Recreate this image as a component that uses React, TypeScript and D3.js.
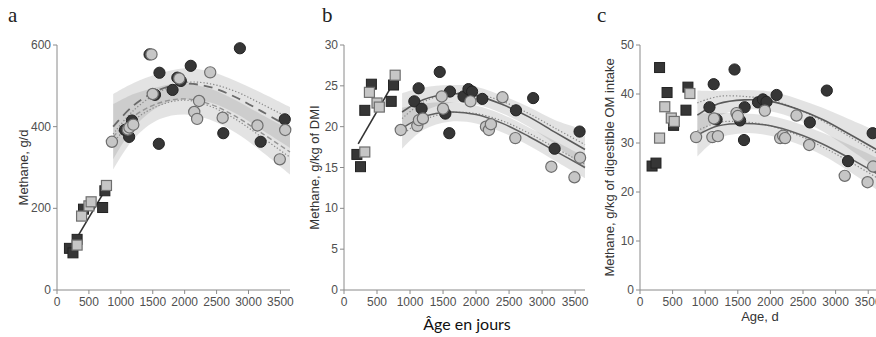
import React from 'react';
import * as d3 from 'd3';

// ---------- data ----------
const darkCircleAges = [1065, 1130, 1175, 1450, 1535, 1595, 1605, 1810, 1885, 1940, 2095, 2605, 2865, 3190, 3568];
const lightCircleAges = [860, 1110, 1135, 1195, 1480, 1500, 1915, 2150, 2195, 2225, 2400, 2595, 3140, 3490, 3575];

const darkCircleA = [392, 375, 415, 577, 478, 358, 532, 490, 520, 512, 549, 384, 592, 363, 418];
const lightCircleA = [363, 393, 398, 405, 577, 480, 518, 436, 419, 463, 533, 422, 403, 320, 392];
const darkCircleB = [23.1, 24.7, 22.2, 26.7, 21.6, 19.2, 24.3, 23.7, 24.6, 24.3, 23.4, 22.0, 23.5, 17.3, 19.4];
const lightCircleB = [19.6, 20.1, 20.8, 21.0, 23.7, 22.2, 23.1, 20.0, 19.6, 20.3, 23.6, 18.6, 15.1, 13.8, 16.2];
const darkCircleC = [37.3, 42.0, 34.8, 45.0, 34.6, 30.6, 37.3, 38.3, 38.9, 38.4, 39.8, 34.2, 40.7, 26.3, 32.0];
const lightCircleC = [31.2, 31.2, 35.0, 31.4, 36.1, 35.5, 36.6, 31.0, 31.5, 31.0, 35.6, 29.6, 23.3, 22.0, 25.2];

const darkSquareAgesAB = [195, 250, 315, 415, 715, 750];
const lightSquareAgesAB = [315, 385, 500, 535, 775];
const darkSquareA = [102, 91, 124, 198, 202, 243];
const lightSquareA = [110, 181, 206, 216, 256];
const darkSquareB = [16.6, 15.1, 22.0, 25.2, 23.1, 25.1];
const lightSquareB = [16.9, 24.2, 22.9, 22.4, 26.3];
const darkSquareAgesC = [185, 245, 300, 415, 515, 705, 735];
const darkSquareC = [25.3, 25.9, 45.4, 40.3, 33.6, 36.7, 41.4];
const lightSquareAgesC = [300, 380, 480, 525, 765];
const lightSquareC = [31.0, 37.4, 35.1, 34.4, 40.1];

const youngLineAges = { a: [230, 770], b: [215, 745] };
const youngLineA = [106, 249];
const youngLineB = [17.9, 25.3];

const fitAges = [880, 1200, 1600, 2000, 2400, 2800, 3200, 3650];
// panel a
const fitDarkA = [400, 452, 490, 505, 497, 472, 438, 398];
const dotDarkA = [382, 440, 485, 508, 505, 486, 456, 420];
const bandDarkLoA = [320, 397, 450, 467, 459, 432, 393, 348];
const bandDarkHiA = [480, 507, 530, 543, 535, 512, 483, 448];
const fitLightA = [375, 425, 458, 468, 455, 425, 385, 338];
const dotLightA = [360, 415, 452, 465, 450, 418, 375, 325];
const bandLightLoA = [295, 370, 418, 430, 417, 385, 340, 283];
const bandLightHiA = [455, 480, 498, 506, 493, 465, 430, 393];
// panel b
const fitDarkB = [21.8, 23.3, 24.0, 23.8, 22.7, 21.2, 19.3, 17.2];
const dotDarkB = [21.0, 23.0, 24.1, 24.0, 23.1, 21.6, 19.8, 17.8];
const bandDarkLoB = [19.5, 21.8, 22.9, 22.7, 21.6, 20.0, 17.8, 14.8];
const bandDarkHiB = [24.1, 24.8, 25.1, 24.9, 23.8, 22.4, 20.8, 19.6];
const fitLightB = [19.8, 21.2, 21.8, 21.5, 20.4, 18.8, 17.0, 15.0];
const dotLightB = [19.0, 20.8, 21.7, 21.6, 20.7, 19.2, 17.4, 15.4];
const bandLightLoB = [17.3, 19.6, 20.6, 20.4, 19.3, 17.7, 15.8, 13.7];
const bandLightHiB = [22.3, 22.8, 23.0, 22.6, 21.5, 19.9, 18.2, 16.3];
// panel c
const fitDarkC = [35.7, 38.0, 38.8, 38.5, 37.0, 34.8, 31.9, 28.5];
const dotDarkC = [38.2, 39.5, 39.5, 38.8, 37.0, 34.5, 31.4, 27.8];
const bandDarkLoC = [30.7, 35.4, 36.8, 36.5, 34.9, 32.4, 28.9, 24.7];
const bandDarkHiC = [40.7, 40.6, 40.8, 40.5, 39.1, 37.2, 34.9, 32.3];
const fitLightC = [31.6, 33.5, 34.0, 33.5, 32.0, 29.8, 27.0, 23.6];
const dotLightC = [32.5, 34.2, 34.3, 33.5, 31.7, 29.2, 26.3, 22.8];
const bandLightLoC = [27.2, 30.9, 32.0, 31.5, 29.9, 27.5, 24.3, 20.3];
const bandLightHiC = [36.0, 36.1, 36.0, 35.5, 34.1, 32.1, 29.7, 26.9];

const xTicks = [0, 500, 1000, 1500, 2000, 2500, 3000, 3500];

// ---------- drawing ----------
const H_TOP = 45;
const H_BOT = 290;
const AXIS = '#8a8a8a';
const TXT = '#505050';
const SANS = 'Liberation Sans, Arial, Helvetica, sans-serif';

type Pts = { ages: number[]; vals: number[] };

type PanelProps = {
  letter: string;
  letterX: number;
  x0: number;
  x1: number;
  yMax: number;
  yTicks: number[];
  yLabel: string;
  yLabelX: number;
  dashed: boolean;
  fitDark: number[]; dotDark: number[]; bandDarkLo: number[]; bandDarkHi: number[];
  fitLight: number[]; dotLight: number[]; bandLightLo: number[]; bandLightHi: number[];
  darkCircles: number[]; lightCircles: number[];
  darkSquares: Pts; lightSquares: Pts;
  young?: Pts;
};

function Panel(p: PanelProps) {
  const x = d3.scaleLinear().domain([0, 3650]).range([p.x0, p.x1]);
  const y = d3.scaleLinear().domain([0, p.yMax]).range([H_BOT, H_TOP]);
  const curve = d3.curveCatmullRom.alpha(0.5);
  const area = (lo: number[], hi: number[]) =>
    d3.area<number>().x((a) => x(a)).y0((_, i) => y(lo[i])).y1((_, i) => y(hi[i])).curve(curve)(fitAges) || '';
  const line = (v: number[]) => d3.line<number>().x((a) => x(a)).y((_, i) => y(v[i])).curve(curve)(fitAges) || '';
  const youngPath = p.young
    ? d3.line<number>().x((a) => x(a)).y((_, i) => y(p.young!.vals[i]))(p.young.ages) || ''
    : '';
  const sq = 10;
  return (
    <g>
      <text x={p.letterX} y={22} fontFamily="Liberation Serif, DejaVu Serif, serif" fontSize={21} fill="#222">{p.letter}</text>
      {/* bands */}
      <path d={area(p.bandDarkLo, p.bandDarkHi)} fill="#8c8c8c" fillOpacity={0.24} />
      <path d={area(p.bandLightLo, p.bandLightHi)} fill="#8c8c8c" fillOpacity={0.24} />
      {/* fit lines */}
      <path d={line(p.dotDark)} fill="none" stroke="#8a8a8a" strokeWidth={1.2} strokeDasharray="1.3,2" />
      <path d={line(p.dotLight)} fill="none" stroke="#8a8a8a" strokeWidth={1.2} strokeDasharray="1.3,2" />
      <path d={line(p.fitDark)} fill="none" stroke={p.dashed ? '#6a6a6a' : '#5a5a5a'} strokeWidth={p.dashed ? 1.8 : 1.6}
        strokeDasharray={p.dashed ? '9,6' : undefined} />
      <path d={line(p.fitLight)} fill="none" stroke={p.dashed ? '#959595' : '#5f5f5f'} strokeWidth={p.dashed ? 1.4 : 1.5}
        strokeDasharray={p.dashed ? '5,3' : undefined} />
      {p.young && <path d={youngPath} fill="none" stroke="#333" strokeWidth={1.6} />}
      {/* axes */}
      <line x1={p.x0} x2={p.x1} y1={H_BOT} y2={H_BOT} stroke={AXIS} strokeWidth={1} />
      <line x1={p.x0} x2={p.x0} y1={H_TOP} y2={H_BOT} stroke={AXIS} strokeWidth={1} />
      {xTicks.map((t) => (
        <g key={'x' + t}>
          <line x1={x(t)} x2={x(t)} y1={H_BOT} y2={H_BOT + 4} stroke={AXIS} />
          <text x={x(t)} y={H_BOT + 16} textAnchor="middle" fontFamily={SANS} fontSize={12} fill={TXT}>{t}</text>
        </g>
      ))}
      {p.yTicks.map((t) => (
        <g key={'y' + t}>
          <line x1={p.x0 - 4} x2={p.x0} y1={y(t)} y2={y(t)} stroke={AXIS} />
          <text x={p.x0 - 6} y={y(t) + 4} textAnchor="end" fontFamily={SANS} fontSize={12} fill={TXT}>{t}</text>
        </g>
      ))}
      <text transform={`translate(${p.yLabelX},${(H_TOP + H_BOT) / 2}) rotate(-90)`} textAnchor="middle"
        fontFamily={SANS} fontSize={13} fill="#333">{p.yLabel}</text>
      {/* squares */}
      {p.darkSquares.ages.map((a, i) => (
        <rect key={'ds' + i} x={x(a) - sq / 2} y={y(p.darkSquares.vals[i]) - sq / 2} width={sq} height={sq}
          fill="#363636" stroke="#222" strokeWidth={1} />
      ))}
      {p.lightSquares.ages.map((a, i) => (
        <rect key={'ls' + i} x={x(a) - sq / 2} y={y(p.lightSquares.vals[i]) - sq / 2} width={sq} height={sq}
          fill="#c6c6c6" stroke="#6e6e6e" strokeWidth={1.2} />
      ))}
      {/* circles */}
      {darkCircleAges.map((a, i) => (
        <circle key={'dc' + i} cx={x(a)} cy={y(p.darkCircles[i])} r={5.6} fill="#363636" stroke="#222" strokeWidth={1} />
      ))}
      {lightCircleAges.map((a, i) => (
        <circle key={'lc' + i} cx={x(a)} cy={y(p.lightCircles[i])} r={5.6} fill="#c6c6c6" stroke="#6e6e6e" strokeWidth={1.2} />
      ))}
    </g>
  );
}

export default function App() {
  return (
    <svg width={876} height={337} style={{ position: 'absolute', left: 0, top: 0, background: '#fff' }}>
      <rect x={0} y={0} width={876} height={337} fill="#fff" />
      <Panel letter="a" letterX={8} x0={57} x1={290} yMax={600} yTicks={[0, 200, 400, 600]}
        yLabel="Methane, g/d" yLabelX={28} dashed={true}
        fitDark={fitDarkA} dotDark={dotDarkA} bandDarkLo={bandDarkLoA} bandDarkHi={bandDarkHiA}
        fitLight={fitLightA} dotLight={dotLightA} bandLightLo={bandLightLoA} bandLightHi={bandLightHiA}
        darkCircles={darkCircleA} lightCircles={lightCircleA}
        darkSquares={{ ages: darkSquareAgesAB, vals: darkSquareA }}
        lightSquares={{ ages: lightSquareAgesAB, vals: lightSquareA }}
        young={{ ages: youngLineAges.a, vals: youngLineA }} />
      <Panel letter="b" letterX={322} x0={344} x1={585} yMax={30} yTicks={[0, 5, 10, 15, 20, 25, 30]}
        yLabel="Methane, g/kg of DMI" yLabelX={319} dashed={false}
        fitDark={fitDarkB} dotDark={dotDarkB} bandDarkLo={bandDarkLoB} bandDarkHi={bandDarkHiB}
        fitLight={fitLightB} dotLight={dotLightB} bandLightLo={bandLightLoB} bandLightHi={bandLightHiB}
        darkCircles={darkCircleB} lightCircles={lightCircleB}
        darkSquares={{ ages: darkSquareAgesAB, vals: darkSquareB }}
        lightSquares={{ ages: lightSquareAgesAB, vals: lightSquareB }}
        young={{ ages: youngLineAges.b, vals: youngLineB }} />
      <Panel letter="c" letterX={597} x0={640} x1={878} yMax={50} yTicks={[0, 10, 20, 30, 40, 50]}
        yLabel="Methane, g/kg of digestible OM intake" yLabelX={614} dashed={false}
        fitDark={fitDarkC} dotDark={dotDarkC} bandDarkLo={bandDarkLoC} bandDarkHi={bandDarkHiC}
        fitLight={fitLightC} dotLight={dotLightC} bandLightLo={bandLightLoC} bandLightHi={bandLightHiC}
        darkCircles={darkCircleC} lightCircles={lightCircleC}
        darkSquares={{ ages: darkSquareAgesC, vals: darkSquareC }}
        lightSquares={{ ages: lightSquareAgesC, vals: lightSquareC }} />
      <text x={467} y={330} textAnchor="middle" fontFamily="Lato, Open Sans, sans-serif" fontSize={16} fill="#111">Âge en jours</text>
      <text x={760} y={321} textAnchor="middle" fontFamily={SANS} fontSize={13} fill="#333">Age, d</text>
    </svg>
  );
}
